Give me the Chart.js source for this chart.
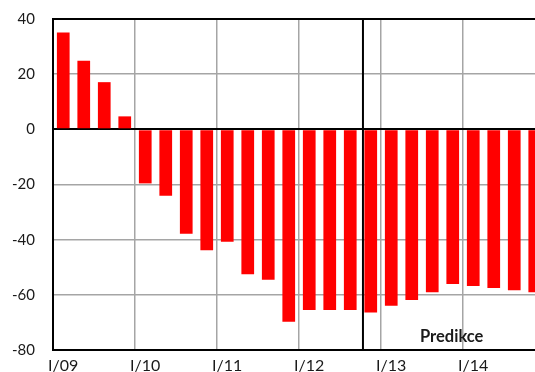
<!DOCTYPE html>
<html>
<head>
<meta charset="utf-8">
<script src="https://cdn.jsdelivr.net/npm/chart.js@4/dist/chart.umd.min.js"></script>
<style>
  html, body { margin: 0; padding: 0; background: #fff; overflow: hidden; }
  #wrap { width: 545px; height: 372px; }
</style>
</head>
<body>
<div id="wrap"><canvas id="c" width="545" height="372"></canvas></div>
<script>
// Quarterly categories, I/09 .. IV/14
const years = ['09', '10', '11', '12', '13', '14'];
const quarters = ['I', 'II', 'III', 'IV'];
const categories = [];
years.forEach(y => quarters.forEach(q => categories.push(q + '/' + y)));

// Balance values per quarter (forecast from IV/12 onward)
const values = [
  35.1, 24.9, 17.1, 4.7,
  -19.6, -24.1, -37.9, -43.8,
  -40.8, -52.5, -54.5, -69.8,
  -65.5, -65.5, -65.5, -66.4,
  -64.0, -61.9, -59.1, -56.1,
  -56.8, -57.5, -58.3, -59.1
];

// Y axis ticks
const yTicks = [-80, -60, -40, -20, 0, 20, 40];

// Forecast marker: boundary position on the category scale and its caption
const forecastStart = 14.62;
const forecastLabel = 'Predikce';
const forecastLabelPos = { x: 18.95, y: -75 };

const FONT = 'Lato, "Open Sans", sans-serif';
const TEXT = '#1a1a1a';
const CLEAR = 'rgba(0,0,0,0)';

const forecastPlugin = {
  id: 'forecast',
  afterDatasetsDraw(chart) {
    const { ctx, chartArea, scales } = chart;
    const x = scales.x.getPixelForValue(forecastStart);
    ctx.save();
    ctx.strokeStyle = '#000';
    ctx.lineWidth = 2;
    ctx.beginPath();
    ctx.moveTo(x, chartArea.top);
    ctx.lineTo(x, chartArea.bottom);
    ctx.stroke();
    ctx.fillStyle = TEXT;
    ctx.font = 'bold 16.5px ' + FONT;
    ctx.textAlign = 'center';
    ctx.textBaseline = 'middle';
    ctx.fillText(forecastLabel,
      scales.x.getPixelForValue(forecastLabelPos.x),
      scales.y.getPixelForValue(forecastLabelPos.y));
    ctx.restore();
  }
};

new Chart(document.getElementById('c'), {
  type: 'bar',
  data: {
    labels: categories,
    datasets: [{
      data: values,
      backgroundColor: '#ff0000',
      borderWidth: 0,
      categoryPercentage: 1,
      barPercentage: 0.62
    }]
  },
  options: {
    responsive: false,
    animation: false,
    layout: { padding: { top: 19, right: 0, bottom: 0, left: 0 } },
    plugins: { legend: { display: false }, tooltip: { enabled: false } },
    scales: {
      x: {
        offset: true,
        afterFit(scale) { scale.height = 22; },
        grid: {
          offset: true,
          drawTicks: true,
          tickLength: 6,
          tickColor: CLEAR,
          color: c => (c.index > 0 && c.index % 4 === 0) ? '#a5a5a5' : CLEAR,
          lineWidth: 1.5
        },
        border: { display: true, color: '#000', width: 2 },
        ticks: {
          autoSkip: false,
          maxRotation: 0,
          padding: 0,
          color: TEXT,
          font: { family: FONT, size: 16 },
          callback(v, i) {
            const l = categories[i];
            return l.startsWith('I/') ? l : '';
          }
        }
      },
      y: {
        min: -80,
        max: 40,
        afterFit(scale) { scale.width = 53; },
        afterBuildTicks(scale) { scale.ticks = yTicks.map(v => ({ value: v })); },
        grid: {
          drawTicks: true,
          tickLength: 18,
          tickColor: CLEAR,
          color: c => (c.tick.value === 0 || c.tick.value === 40) ? '#000' : '#a5a5a5',
          lineWidth: c => (c.tick.value === 0 || c.tick.value === 40) ? 2 : 1.5
        },
        border: { display: true, color: '#000', width: 2 },
        ticks: {
          padding: 0,
          color: TEXT,
          font: { family: FONT, size: 15 }
        }
      }
    }
  },
  plugins: [forecastPlugin]
});
</script>
</body>
</html>
